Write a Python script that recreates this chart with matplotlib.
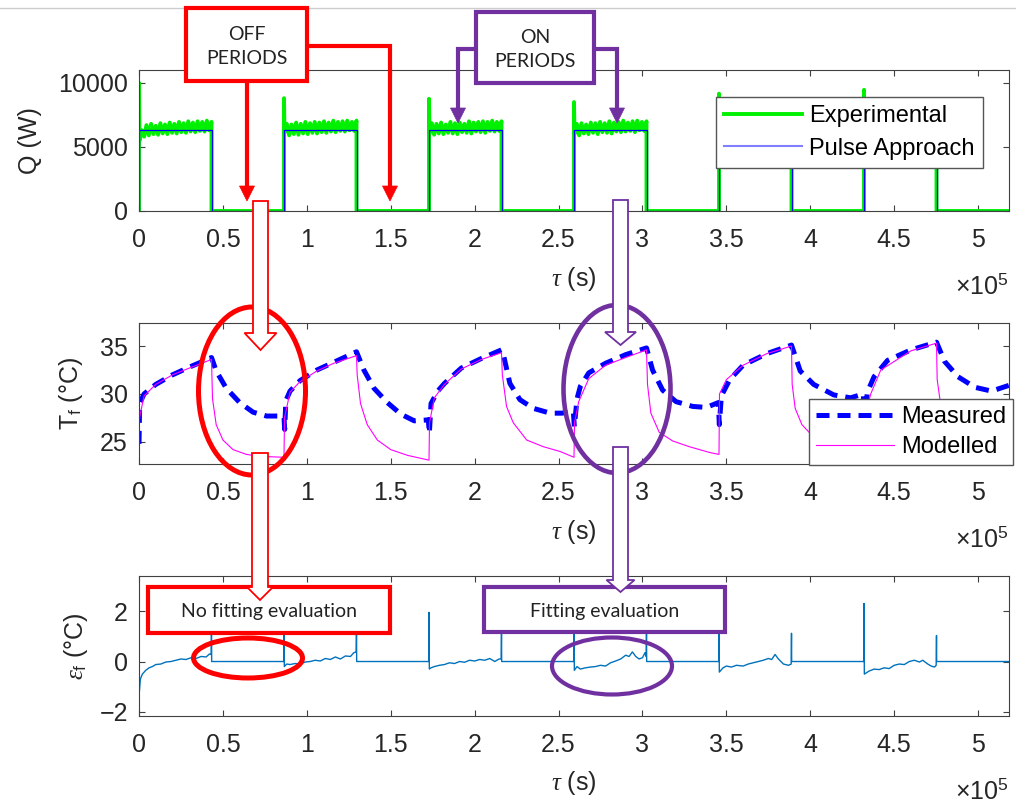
import numpy as np
import matplotlib.pyplot as plt
from matplotlib.patches import Rectangle, Ellipse, Polygon
from matplotlib.lines import Line2D

plt.rcParams['font.family'] = ['Liberation Sans', 'DejaVu Sans']
plt.rcParams['mathtext.fontset'] = 'custom'
plt.rcParams['mathtext.rm'] = 'Liberation Sans'
plt.rcParams['mathtext.it'] = 'Liberation Serif:italic'

W, H = 1016, 807

# heater switching times (x1e5 s)
t_on = [0.0, 0.864, 1.728, 2.592, 3.456, 4.32]
t_off = [0.432, 1.296, 2.16, 3.024, 3.888, 4.752]
t_end = 5.184

# experimental heat rate: start-up peak and samples over each ON period (W)
q_peak = [10000, 8800, 8750, 8500, 9150, 9450]
q_on = [
    [5500, 6300, 5800, 6700, 5900, 6800, 6000, 6650, 5950, 6850, 6050, 6750, 6000, 6900, 6100, 6800,
     6050, 6950, 6150, 6850, 6100, 7000, 6200, 6900, 6150, 7000, 6250, 6950, 6200, 7050, 6300, 6950],
    [6100, 6800, 5900, 6750, 6000, 6900, 5950, 6800, 6050, 6950, 6000, 6850, 6100, 6950, 6050, 6900,
     6150, 7000, 6100, 6900, 6200, 7050, 6150, 6950, 6250, 7000, 6200, 7050, 6300, 6950, 6250, 7050],
    [6050, 6850, 5950, 6800, 6050, 6900, 6000, 6750, 6100, 6950, 6050, 6850, 6000, 6900, 6150, 6800,
     6100, 7000, 6050, 6900, 6200, 6950, 6150, 7000, 6100, 6950, 6250, 7050, 6200, 6950, 6250, 7000],
    [6000, 6800, 5900, 6850, 6050, 6750, 6000, 6900, 6100, 6850, 6000, 6950, 6150, 6850, 6100, 7000,
     6050, 6900, 6200, 6950, 6150, 7050, 6200, 6900, 6250, 7000, 6150, 7050, 6300, 6950, 6250, 7000],
    [6050, 6850, 5950, 6800, 6100, 6900, 6000, 6850, 6050, 6950, 6100, 6800, 6150, 6950, 6050, 6900,
     6200, 7000, 6100, 6950, 6150, 7000, 6250, 6900, 6200, 7050, 6150, 6950, 6300, 7000, 6250, 7050],
    [6000, 6850, 6050, 6750, 5950, 6900, 6100, 6850, 6000, 6950, 6150, 6850, 6050, 6900, 6200, 6950,
     6100, 7000, 6150, 6900, 6250, 7050, 6200, 6950, 6150, 7000, 6300, 7050, 6250, 6950, 6300, 7050],
]
q_pulse = 6350

# fluid temperature, measured (x1e5 s, degC)
T_meas = [
    (0.0, 24.8), (0.004, 29.0), (0.03, 30.0), (0.1, 31.0), (0.2, 32.0), (0.3, 32.8),
    (0.38, 33.4), (0.432, 33.8), (0.46, 32.4), (0.52, 30.6), (0.6, 29.1), (0.68, 28.1),
    (0.76, 27.7), (0.84, 27.7), (0.864, 27.6), (0.868, 26.3), (0.875, 29.3), (0.9, 30.3),
    (0.96, 31.4), (1.06, 32.5), (1.16, 33.3), (1.296, 34.4), (1.34, 32.5), (1.4, 30.6),
    (1.48, 29.1), (1.56, 27.9), (1.64, 27.2), (1.724, 27.3), (1.73, 25.9), (1.74, 29.0),
    (1.78, 30.3), (1.82, 31.1), (1.92, 32.7), (2.04, 33.7), (2.16, 34.6), (2.17, 34.2),
    (2.21, 31.1), (2.27, 29.4), (2.35, 28.5), (2.45, 28.0), (2.52, 28.0), (2.588, 28.2),
    (2.594, 26.6), (2.61, 29.5), (2.63, 30.8), (2.68, 32.2), (2.78, 33.2), (2.9, 34.1),
    (3.024, 34.8), (3.06, 32.5), (3.12, 30.4), (3.2, 29.2), (3.3, 28.7), (3.38, 28.6),
    (3.452, 29.1), (3.458, 26.8), (3.47, 29.8), (3.52, 31.5), (3.6, 33.0), (3.74, 34.2),
    (3.888, 35.1), (3.94, 32.4), (4.02, 31.0), (4.14, 29.9), (4.24, 29.6), (4.316, 30.0),
    (4.322, 27.0), (4.34, 30.2), (4.38, 31.8), (4.46, 33.5), (4.6, 34.6), (4.752, 35.4),
    (4.8, 33.4), (4.88, 31.8), (4.98, 30.7), (5.08, 30.3), (5.184, 30.9),
]

# fluid temperature, pulse model (x1e5 s, degC)
T_model = [
    (0.0, 22.7), (0.003, 27.5), (0.03, 29.8), (0.1, 31.0), (0.2, 32.0), (0.3, 32.7),
    (0.432, 33.6), (0.438, 29.5), (0.46, 26.8), (0.5, 25.2), (0.56, 24.2), (0.64, 23.7),
    (0.72, 23.5), (0.864, 23.4), (0.867, 27.5), (0.9, 30.2), (0.96, 31.3), (1.06, 32.4),
    (1.16, 33.2), (1.296, 34.0), (1.30, 32.0), (1.32, 29.0), (1.36, 26.8), (1.42, 25.2),
    (1.5, 24.2), (1.6, 23.6), (1.728, 23.1), (1.731, 27.0), (1.76, 29.6), (1.82, 31.0),
    (1.92, 32.6), (2.04, 33.6), (2.16, 34.3), (2.165, 32.0), (2.19, 28.7), (2.23, 27.0),
    (2.31, 25.2), (2.41, 24.5), (2.51, 24.0), (2.592, 23.4), (2.595, 27.0), (2.62, 29.2),
    (2.68, 31.6), (2.78, 33.0), (2.9, 33.8), (3.024, 34.6), (3.03, 31.0), (3.05, 28.0),
    (3.1, 26.0), (3.18, 25.1), (3.28, 24.5), (3.4, 23.9), (3.456, 23.7), (3.459, 30.0),
    (3.5, 31.5), (3.6, 33.0), (3.74, 34.2), (3.888, 35.0), (3.892, 31.0), (3.91, 28.5),
    (3.95, 26.8), (4.02, 25.5), (4.12, 24.6), (4.22, 24.0), (4.32, 23.5), (4.323, 27.5),
    (4.36, 30.0), (4.42, 32.5), (4.6, 34.5), (4.752, 35.3), (4.756, 31.5), (4.78, 28.5),
    (4.82, 26.5), (4.9, 25.3), (5.0, 24.5), (5.184, 23.8),
]

# fitting error (x1e5 s, degC), zero while the heater is off
err = [
    (0.0, 1.8), (0.002, -1.2), (0.008, -0.7), (0.02, -0.5), (0.04, -0.35), (0.06, -0.25),
    (0.08, -0.2), (0.1, -0.12), (0.13, -0.1), (0.16, -0.02), (0.19, 0.0), (0.22, 0.05),
    (0.25, 0.1), (0.28, 0.08), (0.31, 0.15), (0.34, 0.12), (0.37, 0.2), (0.4, 0.18),
    (0.42, 0.3), (0.43, 0.28), (0.432, 1.5), (0.433, 0.0),
    (0.863, 0.0), (0.864, 1.6), (0.866, -0.2), (0.88, -0.1), (0.9, -0.12), (0.93, -0.08),
    (0.96, -0.1), (0.99, -0.02), (1.02, 0.0), (1.05, 0.05), (1.08, 0.02), (1.11, 0.12),
    (1.14, 0.08), (1.17, 0.18), (1.2, 0.1), (1.23, 0.22), (1.26, 0.2), (1.28, 0.35),
    (1.294, 0.38), (1.296, 1.2), (1.297, 0.0),
    (1.727, 0.0), (1.728, 1.95), (1.73, -0.3), (1.74, -0.25), (1.76, -0.2), (1.79, -0.15),
    (1.82, -0.12), (1.85, -0.05), (1.88, -0.08), (1.91, 0.0), (1.94, -0.03), (1.97, 0.05),
    (2.0, 0.02), (2.03, 0.08), (2.06, 0.05), (2.09, 0.12), (2.12, 0.0), (2.145, 0.1),
    (2.158, 0.1), (2.16, 1.2), (2.161, 0.0),
    (2.591, 0.0), (2.592, 1.5), (2.594, -0.35), (2.61, -0.2), (2.63, -0.3), (2.66, -0.25),
    (2.69, -0.22), (2.72, -0.2), (2.75, -0.15), (2.78, -0.18), (2.81, -0.05), (2.84, 0.02),
    (2.87, 0.1), (2.9, 0.25), (2.92, 0.2), (2.94, 0.38), (2.96, 0.2), (2.98, 0.1),
    (3.0, 0.15), (3.015, 0.35), (3.022, 0.2), (3.024, 1.2), (3.025, 0.0),
    (3.455, 0.0), (3.456, 1.5), (3.458, -0.42), (3.48, -0.25), (3.5, -0.18), (3.53, -0.22),
    (3.56, -0.15), (3.6, -0.18), (3.63, -0.1), (3.66, -0.05), (3.69, 0.0), (3.72, 0.05),
    (3.75, 0.12), (3.77, 0.08), (3.79, 0.28), (3.81, 0.1), (3.84, -0.1), (3.87, -0.15),
    (3.886, -0.1), (3.888, 1.12), (3.889, 0.0),
    (4.319, 0.0), (4.32, 2.3), (4.322, -0.5), (4.35, -0.38), (4.38, -0.3), (4.41, -0.32),
    (4.44, -0.25), (4.47, -0.28), (4.5, -0.15), (4.53, -0.1), (4.56, -0.12), (4.59, 0.0),
    (4.62, 0.05), (4.65, -0.02), (4.67, 0.05), (4.7, -0.1), (4.72, -0.18), (4.74, -0.22),
    (4.75, -0.15), (4.752, 1.03), (4.753, 0.0), (5.184, 0.0),
]

xticks = [0, 0.5, 1, 1.5, 2, 2.5, 3, 3.5, 4, 4.5, 5]
xticklabels = ['0', '0.5', '1', '1.5', '2', '2.5', '3', '3.5', '4', '4.5', '5']

# ---- build series ----
tq, qq = [], []
for i in range(len(t_on)):
    ts = np.linspace(t_on[i] + 0.003, t_off[i], len(q_on[i]))
    tq += [t_on[i], t_on[i]] + list(ts) + [t_off[i]]
    qq += [0, q_peak[i]] + q_on[i] + [0]
tq.append(t_end)
qq.append(0)

tp, qp = [], []
for a, b in zip(t_on, t_off):
    tp += [a, a, b, b]
    qp += [0, q_pulse, q_pulse, 0]
tp.append(t_end)
qp.append(0)

tm, Tm = zip(*T_meas)
tmod, Tmod = zip(*T_model)
te, ee = zip(*err)

fig = plt.figure(figsize=(W / 100, H / 100), dpi=100)

axc = '#404040'
txtc = '#262626'


def fig_xy(x, y):
    return x / W, 1 - y / H


def make_axes(top_px, bottom_px):
    ax = fig.add_axes([139 / W, 1 - bottom_px / H, 870 / W, (bottom_px - top_px) / H])
    for s in ax.spines.values():
        s.set_color(axc)
        s.set_linewidth(0.8)
    ax.tick_params(direction='in', length=4, width=0.8, top=True, right=True,
                   colors=axc, labelcolor=txtc, labelsize=18)
    ax.tick_params(axis='x', pad=12)
    ax.tick_params(axis='y', pad=8)
    ax.set_xlim(0, t_end)
    ax.set_xticks(xticks)
    ax.set_xticklabels(xticklabels)
    ax.set_xlabel(r'$\tau$ (s)', fontsize=18, color=txtc)
    ax.xaxis.set_label_coords(0.5, -0.38)
    ax.text(1.0, -0.59, r'$\times$10$^{5}$', transform=ax.transAxes,
            ha='right', va='baseline', fontsize=18, color=txtc)
    return ax


# ---- Q panel ----
ax_q = make_axes(70, 211)
ax_q.plot(tq, qq, color='#00f000', lw=2.8, label='Experimental')
ax_q.plot(tp, qp, color='#0000ff', lw=0.9, label='Pulse Approach')
ax_q.set_ylim(0, 11000)
ax_q.set_yticks([0, 5000, 10000])
ax_q.set_ylabel('Q (W)', fontsize=18, color=txtc)
ax_q.yaxis.set_label_coords(-0.111, 0.5)
leg = ax_q.legend(loc='upper right', bbox_to_anchor=(0.97, 0.81), fontsize=17,
                  handlelength=3.3, handletextpad=0.3, labelspacing=0.45,
                  borderpad=0.35, borderaxespad=0, fancybox=False, framealpha=1)
leg.get_frame().set_edgecolor('#555555')
leg.get_frame().set_linewidth(1.0)
leg.legend_handles[1].set_color('#7f7fff')
leg.legend_handles[1].set_linewidth(1.5)

# ---- temperature panel ----
ax_t = make_axes(323, 464)
ax_t.plot(tm, Tm, color='#0000ff', lw=3.6, dashes=(2.6, 1.6), label='Measured')
ax_t.plot(tmod, Tmod, color='#ff00ff', lw=0.8, label='Modelled')
ax_t.set_ylim(22.7, 37.4)
ax_t.set_yticks([25, 30, 35])
ax_t.set_ylabel(r'T$_\mathrm{f}$ (°C)', fontsize=18, color=txtc)
ax_t.yaxis.set_label_coords(-0.062, 0.5)
leg2 = ax_t.legend(loc='upper left', bbox_to_anchor=(0.77, 0.461), fontsize=17,
                   handlelength=3.3, handletextpad=0.3, labelspacing=0.35,
                   borderpad=0.3, borderaxespad=0, fancybox=False, framealpha=1)
leg2.get_frame().set_edgecolor('#555555')
leg2.get_frame().set_linewidth(1.0)

# ---- error panel ----
ax_e = make_axes(576, 716)
ax_e.plot(te, ee, color='#0072bd', lw=1.0)
ax_e.set_ylim(-2.16, 3.39)
ax_e.set_yticks([-2, 0, 2])
ax_e.set_ylabel(r'$\epsilon_\mathrm{f}$ (°C)', fontsize=18, color=txtc)
ax_e.yaxis.set_label_coords(-0.056, 0.5)

# ---- annotations (figure pixel coordinates) ----
RED = '#ff0000'
PURPLE = '#7030a0'
ann_font = ['Lato', 'DejaVu Sans']

fig.add_artist(Line2D([0, 1], [1 - 8 / H, 1 - 8 / H], color='#cccccc', lw=1,
                      transform=fig.transFigure))


def box(x0, y0, x1, y1, color, text, fs=14):
    fig.add_artist(Rectangle(fig_xy(x0, y1), (x1 - x0) / W, (y1 - y0) / H,
                             transform=fig.transFigure, facecolor='white',
                             edgecolor=color, lw=3.0, zorder=5))
    cx, cy = fig_xy((x0 + x1) / 2, (y0 + y1) / 2 + 2)
    fig.text(cx, cy, text, ha='center', va='center', fontsize=fs,
             family=ann_font, color='#222222', linespacing=1.45, zorder=6)


def elbow_arrow(pts, color):
    xs = [fig_xy(x, y)[0] for x, y in pts]
    ys = [fig_xy(x, y)[1] for x, y in pts]
    # stop the shaft where the head starts
    x_end, y_end = pts[-1]
    ys[-1] = fig_xy(0, y_end - 12)[1]
    fig.add_artist(Line2D(xs, ys, color=color, lw=3.0, transform=fig.transFigure,
                          solid_joinstyle='miter', zorder=4))
    head = [fig_xy(x_end - 7.5, y_end - 15), fig_xy(x_end + 7.5, y_end - 15),
            fig_xy(x_end, y_end)]
    fig.add_artist(Polygon(head, closed=True, facecolor=color, edgecolor=color,
                           lw=0.5, transform=fig.transFigure, zorder=4))


def hollow_arrow(cx, y0, y_head, y_tip, w, hw, color):
    pts = [(cx - w / 2, y0), (cx + w / 2, y0), (cx + w / 2, y_head),
           (cx + hw / 2, y_head), (cx, y_tip), (cx - hw / 2, y_head),
           (cx - w / 2, y_head)]
    fig.add_artist(Polygon([fig_xy(x, y) for x, y in pts], closed=True,
                           facecolor='white', edgecolor=color, lw=1.3,
                           transform=fig.transFigure, zorder=7))


def ring(cx, cy, w, h, color, lw):
    fig.add_artist(Ellipse(fig_xy(cx, cy), w / W, h / H, transform=fig.transFigure,
                           fill=False, edgecolor=color, lw=lw, zorder=4))


box(186, 8, 307, 81, RED, 'OFF\nPERIODS')
box(476, 12, 594, 83, PURPLE, 'ON\nPERIODS')
elbow_arrow([(247, 81), (247, 201)], RED)
elbow_arrow([(307, 46), (390, 46), (390, 201)], RED)
elbow_arrow([(476, 49), (458, 49), (458, 123)], PURPLE)
elbow_arrow([(594, 49), (617, 49), (617, 123)], PURPLE)

ring(252, 391, 107, 168, RED, 3.6)
ring(617, 389, 107, 168, PURPLE, 3.3)
ring(248, 658, 109, 40, RED, 3.6)
ring(612, 666, 120, 57, PURPLE, 3.0)

box(148, 587, 390, 633, RED, 'No fitting evaluation')
box(484, 587, 725, 632, PURPLE, 'Fitting evaluation')

hollow_arrow(260.5, 201, 333, 350, 15, 32, RED)
hollow_arrow(260, 453, 587, 600, 16, 26, RED)
hollow_arrow(620.5, 200, 332, 345, 15, 31, PURPLE)
hollow_arrow(620.5, 447, 580, 592, 15, 28, PURPLE)

fig.savefig('out.png', dpi=100)
